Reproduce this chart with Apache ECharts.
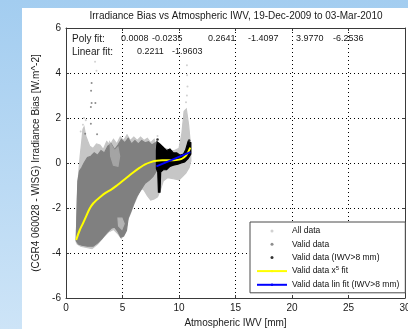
<!DOCTYPE html>
<html><head><meta charset="utf-8">
<script src="https://cdn.jsdelivr.net/npm/echarts@6/dist/echarts.min.js"></script>
<style>
html,body{margin:0;padding:0;width:408px;height:329px;overflow:hidden;}
#bg{position:absolute;left:0;top:0;width:408px;height:329px;background:linear-gradient(to bottom,#a3cdf0,#cde4f7);}
#paper{position:absolute;left:22px;top:8px;width:386px;height:321px;background:#fff;}
#chart{position:absolute;left:0;top:0;width:408px;height:329px;}
</style></head><body>
<div id="bg"></div><div id="paper"></div><div id="chart"></div>
<script>
// ---- data ----
const xTicks = [0, 5, 10, 15, 20, 25, 30];
const yTicks = [-6, -4, -2, 0, 2, 4, 6];
const seriesNames = ['All data', 'Valid data', 'Valid data (IWV>8 mm)', 'Valid data x^5 fit', 'Valid data lin fit (IWV>8 mm)'];
const polyCoefs = ['0.0008', '-0.0235', '0.2641', '-1.4097', '3.9770', '-6.2536'];
const linCoefs = ['0.2211', '-1.9603'];

// envelope of the dense "All data" cloud
const allCloud = [[0.9,-3.5],[0.95,-2.6],[1.0,-1.6],[1.1,-0.6],[1.25,0.3],[1.4,1.0],[1.5,1.5],[1.6,1.6],[1.75,1.2],[1.9,1.0],[2.1,0.75],[2.4,0.65],[2.7,0.85],[3.0,0.8],[3.3,0.6],[3.6,0.95],[3.9,0.8],[4.2,1.05],[4.5,0.85],[4.8,1.15],[5.1,1.0],[5.4,1.25],[5.7,1.0],[6.0,1.15],[6.3,1.0],[6.6,1.15],[6.9,1.0],[7.2,1.1],[7.5,0.9],[7.8,1.05],[8.0,0.75],[8.4,0.55],[8.8,0.65],[9.2,0.55],[9.6,0.55],[10.0,0.65],[10.25,1.3],[10.45,2.3],[10.65,2.4],[10.85,1.7],[11.0,0.9],[11.05,0.1],[10.9,-0.2],[10.6,-0.45],[10.3,-0.6],[10.0,-0.75],[9.5,-0.7],[9.0,-0.65],[8.6,-0.8],[8.35,-1.2],[8.1,-1.5],[7.8,-1.6],[7.5,-1.65],[7.2,-1.45],[6.9,-1.2],[6.6,-1.1],[6.3,-1.5],[6.0,-1.85],[5.7,-2.25],[5.4,-2.6],[5.2,-3.1],[4.9,-3.35],[4.6,-3.15],[4.2,-2.95],[3.8,-3.05],[3.3,-3.3],[2.8,-3.6],[2.3,-3.8],[1.8,-3.75],[1.3,-3.7],[1.0,-3.6]];
// envelope of the dense "Valid data" cloud
const validCloud = [[0.9,-3.45],[0.95,-2.6],[1.0,-1.6],[1.05,-0.8],[1.2,-0.35],[1.4,-0.2],[1.6,0.0],[1.9,0.25],[2.2,0.3],[2.5,0.45],[2.8,0.35],[3.1,0.55],[3.4,0.45],[3.7,0.75],[4.0,0.85],[4.3,0.6],[4.6,0.8],[4.9,1.05],[5.2,0.9],[5.5,1.1],[5.8,0.85],[6.1,1.0],[6.4,0.85],[6.7,1.0],[7.0,0.9],[7.3,0.95],[7.6,0.8],[7.9,0.9],[8.0,0.5],[8.0,-0.35],[7.7,-0.6],[7.4,-0.75],[7.0,-0.9],[6.8,-1.05],[6.5,-1.3],[6.25,-1.5],[6.0,-1.8],[5.7,-2.2],[5.5,-2.45],[5.35,-3.0],[5.1,-3.25],[4.85,-3.3],[4.6,-3.05],[4.3,-2.85],[4.0,-2.9],[3.6,-3.1],[3.2,-3.35],[2.8,-3.55],[2.4,-3.7],[1.9,-3.7],[1.4,-3.65],[1.1,-3.6]];
// lighter gaps inside the valid cloud
const gapA = [[3.9,0.9],[4.3,0.55],[4.6,0.7],[4.75,0.3],[4.6,-0.15],[4.2,-0.1],[3.95,0.3]];
const gapB = [[4.6,-2.45],[4.95,-2.45],[5.15,-2.7],[4.95,-2.95],[4.65,-2.8]];
// envelope of the "Valid data (IWV>8 mm)" cloud
const wetCloud = [[8.0,0.55],[8.05,0.95],[8.3,0.85],[8.6,0.7],[8.9,0.55],[9.2,0.62],[9.5,0.45],[9.8,0.45],[10.1,0.35],[10.4,0.4],[10.6,0.6],[10.8,0.95],[11.05,0.9],[11.05,0.4],[10.8,0.2],[10.5,0.05],[10.2,0.0],[9.9,-0.05],[9.5,-0.1],[9.2,-0.15],[8.9,-0.3],[8.6,-0.3],[8.38,-0.4],[8.32,-1.3],[8.18,-1.3],[8.12,-0.4],[8.0,-0.25]];
// sparse outlying points
const allPts = [[2.57,4.5],[2.7,4.1],[1.6,2.0],[1.75,1.9],[1.5,1.7],[10.7,4.35],[10.72,3.9],[10.75,3.4],[10.7,3.0],[10.62,2.7],[8.1,1.2],[1.3,1.4]];
const validPts = [[2.27,3.56],[2.22,3.21],[2.27,2.67],[2.2,2.49],[2.6,2.67],[2.2,1.75],[1.7,1.3],[2.75,1.28]];
const wetPts = [[8.1,1.05],[10.9,1.0]];
// fitted curves
const polyFitX = [0.9,1.2,1.5,1.8,2.1,2.4,2.7,3.0,3.5,4.0,4.5,5.0,5.5,6.0,6.5,7.0,7.5,8.0,8.5,9.0,9.5,10.0,10.3,10.6,10.8,11.0];
const polyFitY = [-3.42,-3.0,-2.68,-2.35,-2.02,-1.8,-1.65,-1.52,-1.33,-1.18,-1.0,-0.8,-0.6,-0.4,-0.22,-0.06,0.04,0.1,0.12,0.12,0.12,0.15,0.2,0.32,0.47,0.68];
const linFitX = [8.0, 11.0];
const linFitY = [-0.15, 0.48];

// ---- chart ----
const FONT = '"Liberation Sans", Arial, Helvetica, sans-serif';
const chart = echarts.init(document.getElementById('chart'), null, {renderer: 'canvas'});

const cloudLayers = [
  {pts: allCloud, color: '#c6c6c6'},
  {pts: validCloud, color: '#808080'},
  {pts: gapA, color: '#a4a4a4'},
  {pts: gapB, color: '#b4b4b4'},
  {pts: wetCloud, color: '#000000'}
];

function zip(xs, ys) { return xs.map((x, i) => [x, ys[i]]); }

const axisCommon = {
  type: 'value',
  axisLine: {show: true, onZero: false, lineStyle: {color: '#3a3a3a', width: 1}},
  axisTick: {show: true, inside: true, length: 3, lineStyle: {color: '#3a3a3a'}},
};

function txt(s, x, y, size, align) {
  return {type: 'text', x: x, y: y, silent: true, z: 100,
    style: {text: s, fontSize: size, fontFamily: FONT, fill: '#1a1a1a',
      textAlign: align || 'left', align: align || 'left',
      textVerticalAlign: 'middle', verticalAlign: 'middle'}};
}

const coefX = [121, 152, 208, 248, 296, 333];
const linX = [137, 172];
const graphics = [
  txt('Irradiance Bias vs Atmospheric IWV, 19-Dec-2009 to 03-Mar-2010', 236, 16, 10, 'center'),
  txt('Poly fit:', 72, 39, 10),
  txt('Linear fit:', 72, 52, 10)
];
polyCoefs.forEach((c, i) => graphics.push(txt(c, coefX[i], 39, 9)));
linCoefs.forEach((c, i) => graphics.push(txt(c, linX[i], 52, 9)));

const option = {
  animation: false,
  textStyle: {fontFamily: FONT},
  grid: {left: 66, right: 3, top: 28, bottom: 31, containLabel: false, outerBoundsMode: 'none'},
  xAxis: [
    Object.assign({}, axisCommon, {
      min: xTicks[0], max: xTicks[xTicks.length - 1], interval: 5, position: 'bottom',
      axisLabel: {fontSize: 10, color: '#1a1a1a', margin: 5, fontFamily: FONT},
      splitLine: {show: true, lineStyle: {color: '#000', width: 1, type: [1, 3]}},
      name: 'Atmospheric IWV [mm]', nameLocation: 'middle', nameGap: 20,
      nameTextStyle: {fontSize: 10, color: '#1a1a1a', fontFamily: FONT}
    }),
    Object.assign({}, axisCommon, {
      min: xTicks[0], max: xTicks[xTicks.length - 1], interval: 5, position: 'top',
      axisLabel: {show: false}, splitLine: {show: false}
    })
  ],
  yAxis: [
    Object.assign({}, axisCommon, {
      min: yTicks[0], max: yTicks[yTicks.length - 1], interval: 2, position: 'left',
      axisLabel: {fontSize: 10, color: '#1a1a1a', margin: 5, fontFamily: FONT},
      splitLine: {show: true, lineStyle: {color: '#000', width: 1, type: [1, 3]}},
      name: '(CGR4 060028 - WISG) Irradiance Bias [W.m^-2]', nameLocation: 'middle', nameGap: 19,
      nameTextStyle: {fontSize: 10, color: '#1a1a1a', fontFamily: FONT}
    }),
    Object.assign({}, axisCommon, {
      min: yTicks[0], max: yTicks[yTicks.length - 1], interval: 2, position: 'right',
      axisLabel: {show: false}, splitLine: {show: false}
    })
  ],
  legend: {
    orient: 'vertical', left: 250, top: 222,
    data: seriesNames,
    itemWidth: 30, itemHeight: 3, itemGap: 3.2,
    padding: [4, 6, 3, 6],
    borderColor: '#4a4a4a', borderWidth: 1, backgroundColor: '#fff',
    selectedMode: false,
    textStyle: {fontSize: 8.5, color: '#111', lineHeight: 10, fontFamily: FONT,
      rich: {a: {fontSize: 8.5, lineHeight: 10, fontFamily: FONT, color: '#111'},
             s: {fontSize: 6, lineHeight: 10, padding: [0, 0, 5, 0], fontFamily: FONT, color: '#111'}}},
    formatter: function (name) {
      return name === seriesNames[3] ? '{a|Valid data x}{s|5}{a| fit}' : name;
    }
  },
  graphic: graphics,
  series: [
    {
      type: 'custom', name: 'clouds', z: 2, silent: true,
      data: [[1, 0]], encode: {x: 0, y: 1},
      renderItem: function (params, api) {
        return {
          type: 'group',
          children: cloudLayers.map(function (layer) {
            return {
              type: 'polygon',
              shape: {points: layer.pts.map(function (p) { return api.coord(p); })},
              style: {fill: layer.color, stroke: layer.color, lineWidth: 1.2, opacity: 1}
            };
          })
        };
      }
    },
    {name: seriesNames[0], type: 'scatter', data: allPts, symbolSize: 2, z: 5,
      itemStyle: {color: '#c6c6c6'}, silent: true},
    {name: seriesNames[1], type: 'scatter', data: validPts, symbolSize: 2, z: 5,
      itemStyle: {color: '#707070'}, silent: true},
    {name: seriesNames[2], type: 'scatter', data: wetPts, symbolSize: 2.5, z: 5,
      itemStyle: {color: '#000'}, silent: true},
    {name: seriesNames[3], type: 'line', data: zip(polyFitX, polyFitY), smooth: 0.4,
      showSymbol: false, symbol: 'none', z: 6, silent: true,
      lineStyle: {color: '#ffff00', width: 2}, itemStyle: {color: '#ffff00'}},
    {name: seriesNames[4], type: 'line', data: zip(linFitX, linFitY),
      showSymbol: false, symbol: 'none', z: 7, silent: true,
      lineStyle: {color: '#0000ff', width: 2}, itemStyle: {color: '#0000ff'}}
  ]
};
chart.setOption(option);
</script>
</body></html>
